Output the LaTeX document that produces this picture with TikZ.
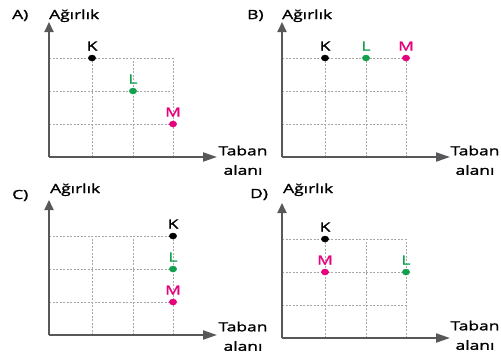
\documentclass[tikz,border=0pt]{standalone}
\usepackage{fontspec}
\setmainfont{Open Sans}[FakeStretch=1.38,FakeBold=1.6]
\usetikzlibrary{arrows.meta,shapes.geometric}
\definecolor{axisgray}{HTML}{58585A}
\definecolor{gridgray}{HTML}{A8A8A8}
\definecolor{Lgreen}{HTML}{12A04C}
\definecolor{Mpink}{HTML}{E5007D}
\tikzset{
  txt/.style={inner sep=0pt, font=\fontsize{12.6}{19.5}\selectfont},
  axisline/.style={line width=2.1pt, draw=axisgray},
  vtip/.style={-{Triangle[length=10pt,width=9pt]}},
  htip/.style={-{Triangle[length=14pt,width=9pt]}},
  gridline/.style={draw=gridgray, line width=0.6pt, dash pattern=on 2pt off 1.5pt},
  dot/.style={ellipse, minimum width=8pt, minimum height=6.5pt, inner sep=0pt, draw=none},
  ptlabel/.style={txt, anchor=base},
}
\newcommand{\panelframe}[1]{%
  \coordinate (#1o) at (0,0);
  \coordinate (#1x) at (168,0);
  \coordinate (#1y) at (0,-135);
  \foreach \gx in {43,84,124} \draw[gridline] (\gx,0) -- (\gx,-99);
  \foreach \gy in {33,66,99} \draw[gridline] (0,-\gy) -- (124,-\gy);
  \draw[axisline,htip] (#1o) -- (#1x);
  \draw[axisline,vtip] (#1o) -- (#1y);
}
\begin{document}
\begin{tikzpicture}[x=1pt,y=-1pt]
\useasboundingbox (0,0) rectangle (501,357);
% Panel A
\begin{scope}[shift={(49,157)}]
  \panelframe{A}
  \node[dot, fill=black] (AK) at (43,-99) {};
  \node[dot, fill=Lgreen] (AL) at (84,-66) {};
  \node[dot, fill=Mpink] (AM) at (124,-33) {};
  \node[ptlabel] (AKt) at (43,-106.5) {K};
  \node[ptlabel, text=Lgreen] (ALt) at (84,-73.5) {L};
  \node[ptlabel, text=Mpink] (AMt) at (124,-40.5) {M};
\end{scope}
\node[txt, anchor=base west] (Aletter) at (12,19) {A)};
\node[txt, anchor=base west] (Ay) at (49,19) {Ağırlık};
\node[txt, anchor=north, align=center] (Ax) at (243,145.5) {Taban\\alanı};
% Panel B
\begin{scope}[shift={(282,157)}]
  \panelframe{B}
  \node[dot, fill=black] (BK) at (43,-99) {};
  \node[dot, fill=Lgreen] (BL) at (84,-99) {};
  \node[dot, fill=Mpink] (BM) at (124,-99) {};
  \node[ptlabel] (BKt) at (43,-106.5) {K};
  \node[ptlabel, text=Lgreen] (BLt) at (84,-106.5) {L};
  \node[ptlabel, text=Mpink] (BMt) at (124,-106.5) {M};
\end{scope}
\node[txt, anchor=base west] (Bletter) at (247,19) {B)};
\node[txt, anchor=base west] (By) at (282,19) {Ağırlık};
\node[txt, anchor=north, align=center] (Bx) at (475,145.5) {Taban\\alanı};
% Panel C
\begin{scope}[shift={(49,335)}]
  \panelframe{C}
  \node[dot, fill=black] (CK) at (124,-99) {};
  \node[dot, fill=Lgreen] (CL) at (124,-66) {};
  \node[dot, fill=Mpink] (CM) at (124,-33) {};
  \node[ptlabel] (CKt) at (124,-106.5) {K};
  \node[ptlabel, text=Lgreen] (CLt) at (124,-73.5) {L};
  \node[ptlabel, text=Mpink] (CMt) at (124,-40.5) {M};
\end{scope}
\node[txt, anchor=base west] (Cletter) at (12,199) {C)};
\node[txt, anchor=base west] (Cy) at (50,193) {Ağırlık};
\node[txt, anchor=north, align=center] (Cx) at (243,321.5) {Taban\\alanı};
% Panel D
\begin{scope}[shift={(282,338)}]
  \panelframe{D}
  \node[dot, fill=black] (DK) at (43,-99) {};
  \node[dot, fill=Mpink] (DM) at (43,-66) {};
  \node[dot, fill=Lgreen] (DL) at (124,-66) {};
  \node[ptlabel] (DKt) at (43,-106.5) {K};
  \node[ptlabel, text=Mpink] (DMt) at (43,-73.5) {M};
  \node[ptlabel, text=Lgreen] (DLt) at (124,-73.5) {L};
\end{scope}
\node[txt, anchor=base west] (Dletter) at (250,198) {D)};
\node[txt, anchor=base west] (Dy) at (283,193) {Ağırlık};
\node[txt, anchor=north, align=center] (Dx) at (475,320.5) {Taban\\alanı};
\end{tikzpicture}
\end{document}
